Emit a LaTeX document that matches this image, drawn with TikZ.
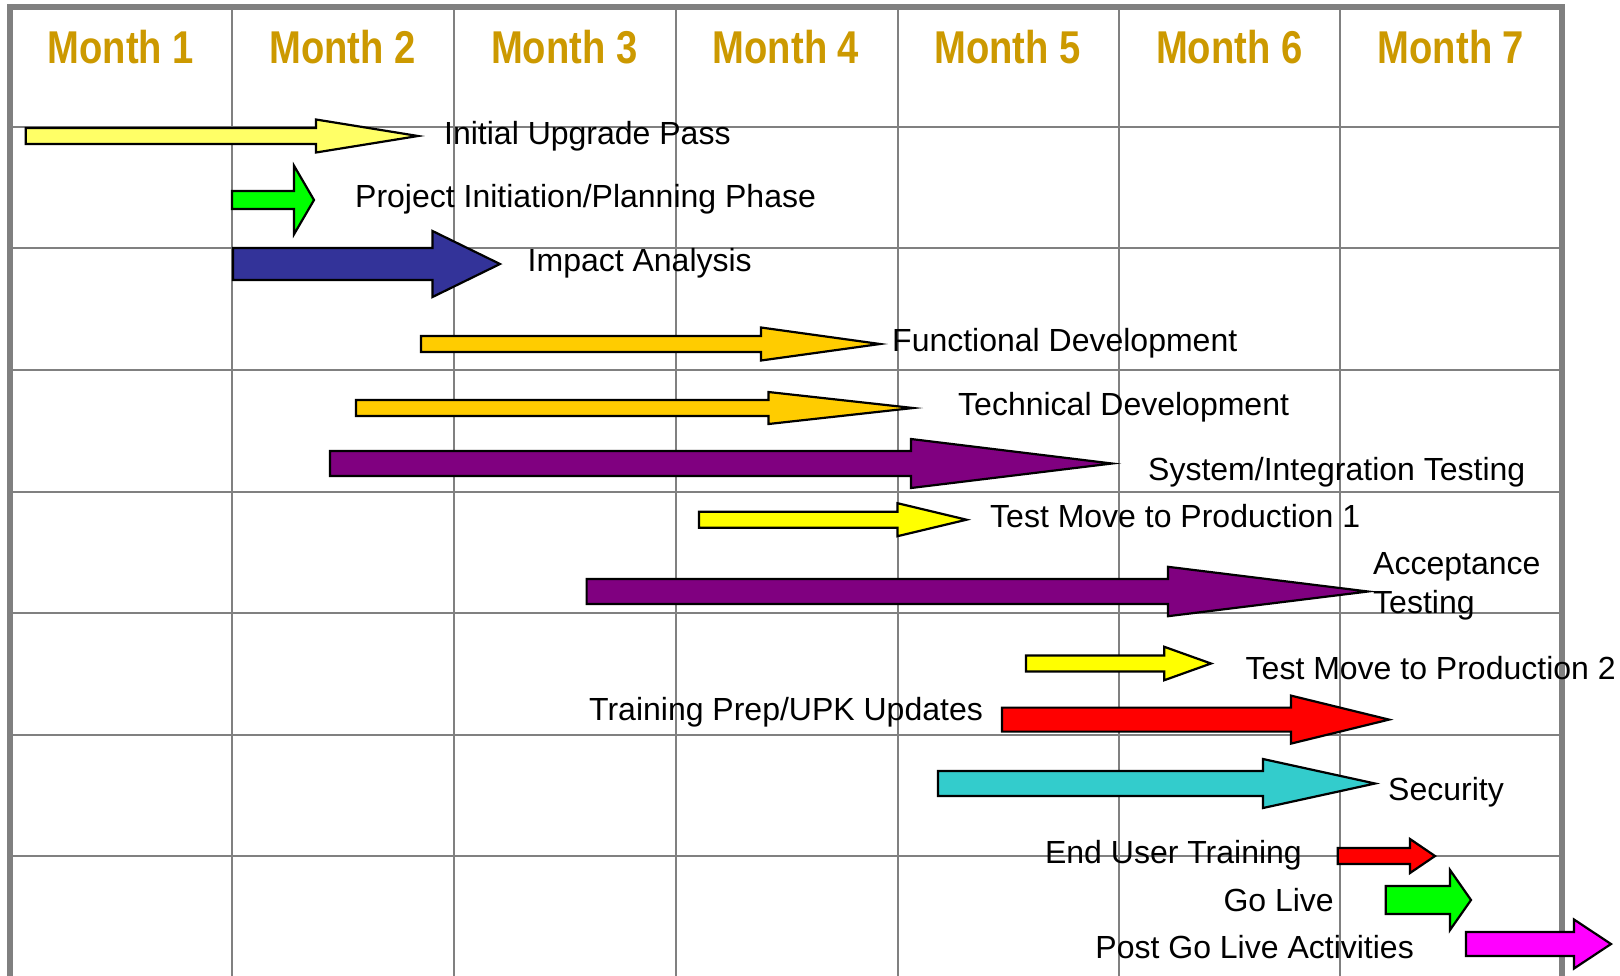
\documentclass[tikz,border=0pt]{standalone}
\usepackage{fontspec}
\setmainfont{Liberation Sans}
\newfontfamily\monthfont[FakeStretch=0.83]{Liberation Sans}
\definecolor{gridgray}{HTML}{808080}
\definecolor{monthgold}{HTML}{CC9900}
\definecolor{paleyellow}{HTML}{FFFF66}
\definecolor{brightgreen}{HTML}{00FF00}
\definecolor{navyblue}{HTML}{333399}
\definecolor{goldyellow}{HTML}{FFCC00}
\definecolor{darkpurple}{HTML}{800080}
\definecolor{pureyellow}{HTML}{FFFF00}
\definecolor{purered}{HTML}{FF0000}
\definecolor{cyanish}{HTML}{33CCCC}
\definecolor{puremagenta}{HTML}{FF00FF}
\newcommand{\garrow}[7]{%
  \draw[arrowline, fill=#1] (#2,#5-#6) -- (#3,#5-#6) -- (#3,#5-#7) -- (#4,#5)
    -- (#3,#5+#7) -- (#3,#5+#6) -- (#2,#5+#6) -- cycle;}
\tikzset{
  gridline/.style={draw=gridgray, line width=2pt},
  borderline/.style={draw=gridgray, line width=6pt},
  arrowline/.style={draw=black, line width=2.2pt, line join=miter},
  monthlabel/.style={font=\monthfont\bfseries\fontsize{46}{50}\selectfont, text=monthgold, anchor=base, inner sep=0pt},
  tasklabel/.style={font=\fontsize{32}{38.5}\selectfont, text=black, inner sep=0pt, align=left},
}
\begin{document}
\begin{tikzpicture}[x=1pt, y=-1pt]
\useasboundingbox (0,0) rectangle (1620,975);
\fill[white] (0,0) rectangle (1620,975);
\begin{scope}
\clip (0,0) rectangle (1620,975);
% horizontal grid lines
\foreach \yy in {127.2, 248.4, 370.2, 491.6, 613.3, 734.6, 856.2}
  \draw[gridline] (10,\yy) -- (1562,\yy);
% vertical grid lines
\foreach \xx in {232.2, 454, 676.4, 898, 1118.6, 1340.4}
  \draw[gridline] (\xx,7) -- (\xx,980);
% outer border (open at the bottom)
\draw[borderline] (10,985) -- (10,7) -- (1562,7) -- (1562,985);
\end{scope}
% month headers
\foreach \i/\xx in {1/120.9, 2/342.6, 3/564.3, 4/786, 5/1007.6, 6/1229.3, 7/1451}
  \node[monthlabel] (month\i) at (\xx,63.3) {Month \i};
% arrows
\garrow{paleyellow}{25.7}{316}{418}{136}{8}{16.5}
\garrow{brightgreen}{232}{294}{314}{200}{9}{34.3}
\garrow{navyblue}{233}{432.5}{500}{264}{16}{33}
\garrow{goldyellow}{421}{761}{880}{344}{8}{16.5}
\garrow{goldyellow}{356}{768.5}{913}{408}{8}{16}
\garrow{darkpurple}{330}{911}{1112}{463.5}{12.5}{24.5}
\garrow{pureyellow}{699}{897.5}{966.5}{519.7}{8}{16.5}
\garrow{darkpurple}{586.6}{1168}{1368}{591.5}{12.5}{24.7}
\garrow{pureyellow}{1026}{1164.3}{1211}{663.5}{8}{16.7}
\garrow{purered}{1002}{1291}{1389}{719.6}{12}{24}
\garrow{cyanish}{938}{1263}{1375}{783.5}{12.5}{24.5}
\garrow{purered}{1337.7}{1410}{1435}{856}{8}{17}
\garrow{brightgreen}{1385.7}{1450}{1471}{900}{14}{30}
\garrow{puremagenta}{1466}{1574}{1611}{944}{12}{24.5}
% task labels
\node[tasklabel, anchor=base west] (t1) at (444,144) {Initial Upgrade Pass};
\node[tasklabel, anchor=base west] (t2) at (355,207.3) {Project Initiation/Planning Phase};
\node[tasklabel, anchor=base west] (t3) at (527.5,271.7) {Impact Analysis};
\node[tasklabel, anchor=base west] (t4) at (892,351.7) {Functional Development};
\node[tasklabel, anchor=base west] (t5) at (958,415.7) {Technical Development};
\node[tasklabel, anchor=base west] (t6) at (1148,480) {System/Integration Testing};
\node[tasklabel, anchor=base west] (t7) at (990,527.7) {Test Move to Production 1};
\node[tasklabel, anchor=base west] (t8) at (1373,613.3) {Acceptance\\Testing};
\node[tasklabel, anchor=base west] (t9) at (1245.5,679.3) {Test Move to Production 2};
\node[tasklabel, anchor=base west] (t10) at (589,720) {Training Prep/UPK Updates};
\node[tasklabel, anchor=base west] (t11) at (1388,800) {Security};
\node[tasklabel, anchor=base east] (t12) at (1302,863.3) {End User Training};
\node[tasklabel, anchor=base east] (t13) at (1334,911) {Go Live};
\node[tasklabel, anchor=base east] (t14) at (1414,958.3) {Post Go Live Activities};
\end{tikzpicture}
\end{document}
